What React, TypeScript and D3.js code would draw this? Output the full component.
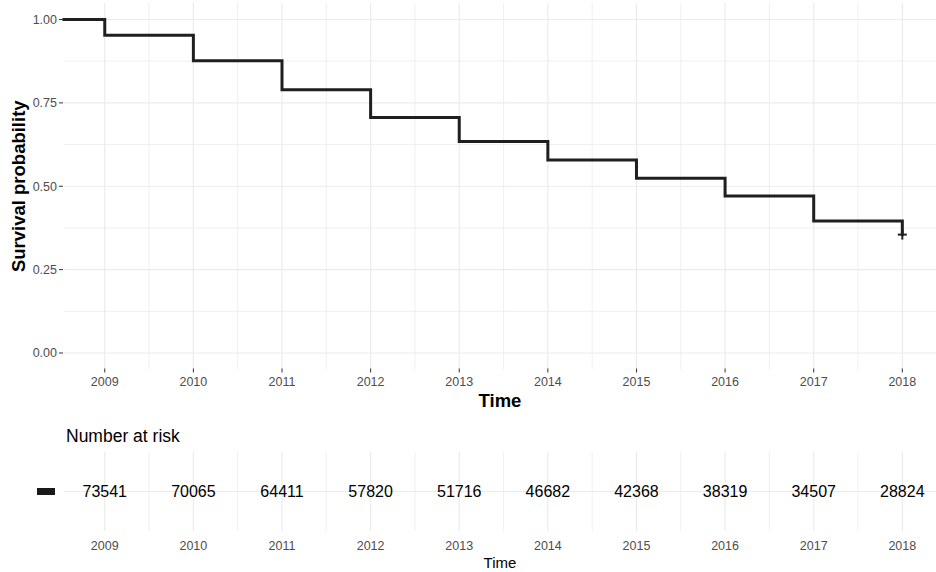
import React from "react";
import * as d3 from "d3";

// Kaplan–Meier estimate: survival after each event year
const eventYears = [2009, 2010, 2011, 2012, 2013, 2014, 2015, 2016, 2017, 2018];
const survival = [0.953, 0.876, 0.789, 0.706, 0.634, 0.579, 0.524, 0.471, 0.396, 0.355];
const startYear = 2008.54;
const startSurvival = 1.0;
const censorYears = [2018];
const censorSurvival = [0.355];

// Risk table
const riskYears = [2009, 2010, 2011, 2012, 2013, 2014, 2015, 2016, 2017, 2018];
const atRisk = [73541, 70065, 64411, 57820, 51716, 46682, 42368, 38319, 34507, 28824];

const yTicks = [0, 0.25, 0.5, 0.75, 1.0];
const yMinor = [0.125, 0.375, 0.625, 0.875];
const xTicks = [2009, 2010, 2011, 2012, 2013, 2014, 2015, 2016, 2017, 2018];
const xMinor = [2008.5, 2009.5, 2010.5, 2011.5, 2012.5, 2013.5, 2014.5, 2015.5, 2016.5, 2017.5, 2018.5];

const W = 936;
const H = 572;
const FONT = "'Liberation Sans', Arial, sans-serif";
const GRID = "#EBEBEB";
const TICK_TEXT = "#4D4D4D";
const CURVE = "#1f1f1f";

export default function App() {
  const panelLeft = 64;
  const panelRight = 936;
  const top = { y0: 3, y1: 369.5 };
  const table = { y0: 452, y1: 531 };

  const x = d3.scaleLinear().domain([startYear, 2018.38]).range([panelLeft, panelRight]);
  const y = d3.scaleLinear().domain([0, 1]).range([353, 19.5]);

  const steps: [number, number][] = [[startYear, startSurvival]];
  eventYears.forEach((t, i) => steps.push([t, survival[i]]));
  const line = d3
    .line<[number, number]>()
    .x((d) => x(d[0]))
    .y((d) => y(d[1]))
    .curve(d3.curveStepAfter);

  const xMinorIn = xMinor.filter((v) => x(v) >= panelLeft && x(v) <= panelRight);
  const tableMid = (table.y0 + table.y1) / 2;

  return (
    <svg
      width={W}
      height={H}
      style={{ position: "absolute", left: 0, top: 0, display: "block", background: "#fff" }}
      fontFamily={FONT}
    >
      {/* survival panel grid */}
      <g>
        {yMinor.map((v) => (
          <line key={"ym" + v} x1={panelLeft} x2={panelRight} y1={y(v)} y2={y(v)} stroke={GRID} strokeWidth={0.8} />
        ))}
        {xMinorIn.map((v) => (
          <line key={"xm" + v} x1={x(v)} x2={x(v)} y1={top.y0} y2={top.y1} stroke={GRID} strokeWidth={0.8} />
        ))}
        {yTicks.map((v) => (
          <line key={"yM" + v} x1={panelLeft} x2={panelRight} y1={y(v)} y2={y(v)} stroke={GRID} strokeWidth={1.2} />
        ))}
        {xTicks.map((v) => (
          <line key={"xM" + v} x1={x(v)} x2={x(v)} y1={top.y0} y2={top.y1} stroke={GRID} strokeWidth={1.2} />
        ))}
      </g>

      {/* survival curve */}
      <path d={line(steps) || ""} fill="none" stroke={CURVE} strokeWidth={3} strokeLinejoin="miter" strokeLinecap="square" />
      {censorYears.map((t, i) => (
        <g key={"c" + t} stroke={CURVE} strokeWidth={2}>
          <line x1={x(t) - 4.5} x2={x(t) + 4.5} y1={y(censorSurvival[i])} y2={y(censorSurvival[i])} />
          <line x1={x(t)} x2={x(t)} y1={y(censorSurvival[i]) - 5} y2={y(censorSurvival[i]) + 5} />
        </g>
      ))}

      {/* y axis */}
      <g>
        {yTicks.map((v) => (
          <g key={"yt" + v}>
            <line x1={panelLeft - 5} x2={panelLeft - 1} y1={y(v)} y2={y(v)} stroke="#333" strokeWidth={1} />
            <text x={panelLeft - 7} y={y(v)} dy="0.35em" textAnchor="end" fontSize={12.5} fill={TICK_TEXT}>
              {d3.format(".2f")(v)}
            </text>
          </g>
        ))}
        <text
          transform={`translate(25,${(top.y0 + top.y1) / 2}) rotate(-90)`}
          textAnchor="middle"
          fontSize={18.5}
          fontWeight="bold"
          fill="#000"
        >
          Survival probability
        </text>
      </g>

      {/* x axis */}
      <g>
        {xTicks.map((v) => (
          <g key={"xt" + v}>
            <line x1={x(v)} x2={x(v)} y1={top.y1 - 1} y2={top.y1 + 3} stroke="#333" strokeWidth={1} />
            <text x={x(v)} y={382} dy="0.35em" textAnchor="middle" fontSize={12.5} fill={TICK_TEXT}>
              {v}
            </text>
          </g>
        ))}
        <text x={(panelLeft + panelRight) / 2} y={401} dy="0.35em" textAnchor="middle" fontSize={18.5} fontWeight="bold" fill="#000">
          Time
        </text>
      </g>

      {/* risk table */}
      <text x={66} y={436} dy="0.35em" fontSize={17.5} fill="#000">
        Number at risk
      </text>
      <g>
        {xMinorIn.map((v) => (
          <line key={"txm" + v} x1={x(v)} x2={x(v)} y1={table.y0} y2={table.y1} stroke={GRID} strokeWidth={0.8} />
        ))}
        {xTicks.map((v) => (
          <line key={"txM" + v} x1={x(v)} x2={x(v)} y1={table.y0} y2={table.y1} stroke={GRID} strokeWidth={1.2} />
        ))}
        <line x1={panelLeft} x2={panelRight} y1={tableMid} y2={tableMid} stroke={GRID} strokeWidth={1.2} />
      </g>
      <rect x={37} y={tableMid - 3.5} width={18} height={7} fill="#1a1a1a" />
      {riskYears.map((t, i) => (
        <text key={"r" + t} x={x(t)} y={tableMid} dy="0.35em" textAnchor="middle" fontSize={16} fill="#000">
          {atRisk[i]}
        </text>
      ))}
      {xTicks.map((v) => (
        <text key={"bt" + v} x={x(v)} y={546} dy="0.35em" textAnchor="middle" fontSize={12.5} fill={TICK_TEXT}>
          {v}
        </text>
      ))}
      <text x={(panelLeft + panelRight) / 2} y={563} dy="0.35em" textAnchor="middle" fontSize={15} fill="#000">
        Time
      </text>
    </svg>
  );
}
